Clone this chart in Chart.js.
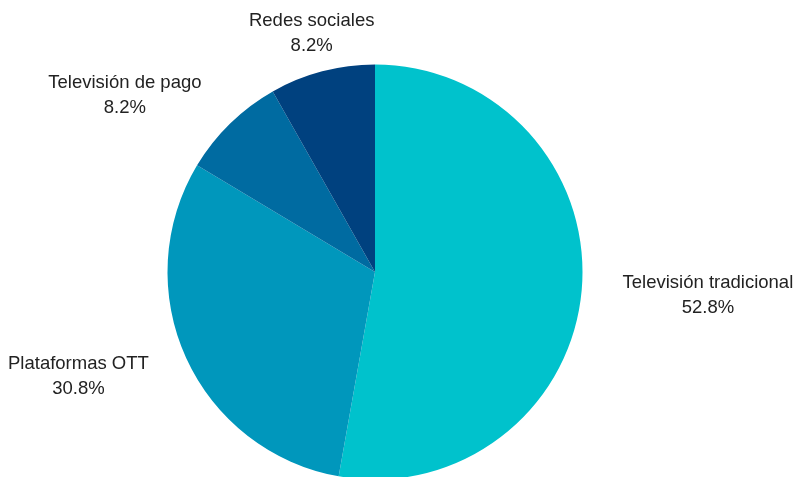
<!DOCTYPE html>
<html lang="es">
<head>
<meta charset="utf-8">
<title>Consumo de contenidos</title>
<script src="https://cdn.jsdelivr.net/npm/chart.js@4/dist/chart.umd.min.js"></script>
<style>
  html, body {
    margin: 0;
    padding: 0;
    background: #ffffff;
    overflow: hidden;
  }
  #wrap {
    position: absolute;
    left: 0;
    top: 0;
    width: 796px;
    height: 480px;
  }
</style>
</head>
<body>
<div id="wrap">
  <canvas id="shareChart" width="796" height="480"></canvas>
</div>
<script>
const categories = [
  "Televisión tradicional",
  "Plataformas OTT",
  "Televisión de pago",
  "Redes sociales"
];
const shares = [52.8, 30.8, 8.2, 8.2];
const sliceColors = ["#00c2cc", "#0097bc", "#006ba1", "#00417f"];

// Two-line labels (name + percent) placed just outside each slice
const outsideLabels = {
  id: "outsideLabels",
  afterDatasetsDraw(chart) {
    const ctx = chart.ctx;
    const meta = chart.getDatasetMeta(0);
    const total = shares.reduce((sum, v) => sum + v, 0);

    ctx.save();
    ctx.font = "18.5px 'Liberation Sans', Arial, sans-serif";
    ctx.fillStyle = "#222222";
    ctx.textBaseline = "alphabetic";
    ctx.textAlign = "center";

    meta.data.forEach((arc, i) => {
      const { x, y, startAngle, endAngle, outerRadius } = arc.getProps(
        ["x", "y", "startAngle", "endAngle", "outerRadius"],
        true
      );
      const mid = (startAngle + endAngle) / 2;
      const dx = Math.cos(mid);
      const dy = Math.sin(mid);
      const dist = outerRadius + 41;
      const ax = x + dx * dist;
      const ay = y + dy * dist;

      const lines = [
        categories[i],
        `${((shares[i] / total) * 100).toFixed(1)}%`
      ];
      const blockWidth = Math.max(...lines.map((t) => ctx.measureText(t).width));

      let cx = ax;
      if (dx > 0.4) {
        cx = ax + blockWidth / 2;
      } else if (dx < -0.4) {
        cx = ax - blockWidth / 2;
      }

      ctx.fillText(lines[0], cx, ay - 6);
      ctx.fillText(lines[1], cx, ay + 19);
    });

    ctx.restore();
  }
};

new Chart(document.getElementById("shareChart"), {
  type: "pie",
  data: {
    labels: categories,
    datasets: [
      {
        data: shares,
        backgroundColor: sliceColors,
        borderWidth: 0
      }
    ]
  },
  options: {
    responsive: false,
    animation: false,
    layout: {
      padding: {
        top: 64.5,
        bottom: 0.5,
        left: 167.5,
        right: 213.5
      }
    },
    plugins: {
      legend: { display: false },
      tooltip: { enabled: false }
    }
  },
  plugins: [outsideLabels]
});
</script>
</body>
</html>
